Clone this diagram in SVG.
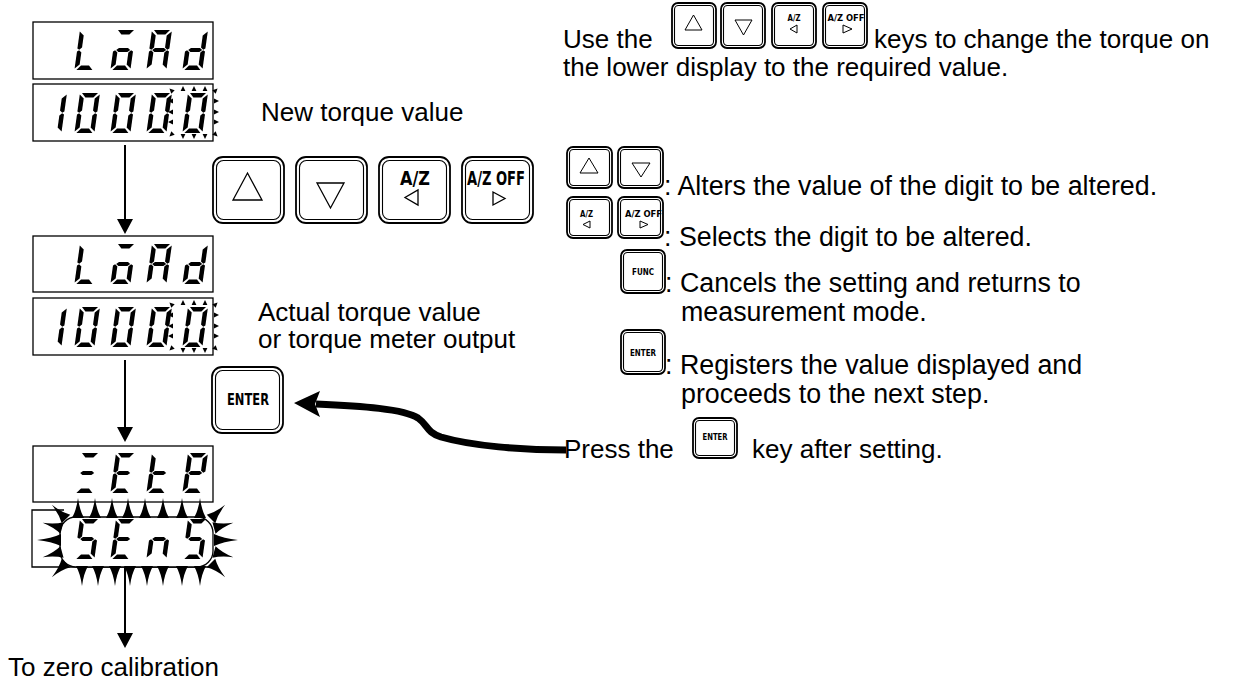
<svg xmlns="http://www.w3.org/2000/svg" width="1239" height="688" viewBox="0 0 1239 688">
<style>
.t{font-family:"Liberation Sans",Arial,Helvetica,sans-serif;font-size:26px;fill:#000}
.tl{font-size:26.8px}
.k{font-family:"DejaVu Sans Condensed","Liberation Sans Narrow","Liberation Sans",sans-serif;font-weight:bold;fill:#000;text-anchor:middle}
.box{fill:#fff;stroke:#000;stroke-width:1.3}
.ko{fill:#fff;stroke:#000;stroke-width:1.8}
.ki{fill:none;stroke:#000;stroke-width:1.1}
.sym{fill:#fff;stroke:#000;stroke-width:1.3}
.ln{stroke:#000;stroke-width:2;fill:none}
.seg use,.seg path{fill:#000}
</style>
<defs>
<path id="sa" d="M2,0 H18 L14,4.5 H6 Z"/>
<path id="sb" d="M20,1.5 V18.6 L18,19.7 L15.5,17.6 V5.5 Z"/>
<path id="sf" d="M0,1.5 L4.5,5.5 V17.6 L2,19.7 L0,18.6 Z"/>
<path id="sg" d="M3,20 L5.5,17.9 H14.5 L17,20 L14.5,22.1 H5.5 Z"/>
<path id="se" d="M0,21.4 L2,20.3 L4.5,22.4 V34.5 L0,38.5 Z"/>
<path id="sc" d="M20,21.4 V38.5 L15.5,34.5 V22.4 L18,20.3 Z"/>
<path id="sd" d="M2,40 L6,35.5 H14 L18,40 Z"/>
<path id="spk" d="M-6,0 Q-1.5,-8 0,-20 Q1.5,-8 6,0 Z"/>
<path id="tri" d="M-2.4,0 L2.4,0 L0,-5 Z"/>
<path id="ah" d="M-8,-15 L8,-15 L0,0 Z"/>
<g id="blink">
<use href="#tri" transform="translate(183,91)"/><use href="#tri" transform="translate(194,91)"/><use href="#tri" transform="translate(205,91)"/>
<use href="#tri" transform="translate(183,134) rotate(180)"/><use href="#tri" transform="translate(194,134) rotate(180)"/><use href="#tri" transform="translate(205,134) rotate(180)"/>
<use href="#tri" transform="translate(214,101) rotate(90)"/><use href="#tri" transform="translate(214,112) rotate(90)"/><use href="#tri" transform="translate(214,122) rotate(90)"/>
<use href="#tri" transform="translate(214,92) rotate(45)"/><use href="#tri" transform="translate(214,133) rotate(135)"/>
<use href="#tri" transform="translate(173,101) rotate(-90)"/><use href="#tri" transform="translate(173,112) rotate(-90)"/><use href="#tri" transform="translate(173,122) rotate(-90)"/>
<use href="#tri" transform="translate(173,92) rotate(-45)"/><use href="#tri" transform="translate(173,133) rotate(-135)"/>
</g>
</defs>
<rect width="1239" height="688" fill="#fff"/>

<!-- Display 1: LoAd / 1000.0 -->
<g id="display-load-1">
<rect class="box" x="33" y="22" width="180" height="57"/>
<g class="seg">
<g transform="translate(80,30) skewX(-8)"><use href="#sd"/><use href="#se"/><use href="#sf"/></g>
<g transform="translate(116,30) skewX(-8)"><use href="#sa"/><use href="#sc"/><use href="#sd"/><use href="#se"/><use href="#sg"/></g>
<g transform="translate(152,30) skewX(-8)"><use href="#sa"/><use href="#sb"/><use href="#sc"/><use href="#se"/><use href="#sf"/><use href="#sg"/></g>
<g transform="translate(188,30) skewX(-8)"><use href="#sb"/><use href="#sc"/><use href="#sd"/><use href="#se"/><use href="#sg"/></g>
</g>
</g>
<g id="display-value-1">
<rect class="box" x="33" y="84" width="180" height="57"/>
<g class="seg">
<g transform="translate(47,93) skewX(-8)"><use href="#sb"/><use href="#sc"/></g>
<g transform="translate(80,93) skewX(-8)"><use href="#sa"/><use href="#sb"/><use href="#sc"/><use href="#sd"/><use href="#se"/><use href="#sf"/></g>
<g transform="translate(116,93) skewX(-8)"><use href="#sa"/><use href="#sb"/><use href="#sc"/><use href="#sd"/><use href="#se"/><use href="#sf"/></g>
<g transform="translate(152,93) skewX(-8)"><use href="#sa"/><use href="#sb"/><use href="#sc"/><use href="#sd"/><use href="#se"/><use href="#sf"/></g>
<g transform="translate(188,93) skewX(-8)"><use href="#sa"/><use href="#sb"/><use href="#sc"/><use href="#sd"/><use href="#se"/><use href="#sf"/></g>
<use href="#blink"/>
</g>
</g>

<!-- Display 2 -->
<g id="display-load-2">
<rect class="box" x="33" y="236" width="180" height="56"/>
<g class="seg">
<g transform="translate(80,244) skewX(-8)"><use href="#sd"/><use href="#se"/><use href="#sf"/></g>
<g transform="translate(116,244) skewX(-8)"><use href="#sa"/><use href="#sc"/><use href="#sd"/><use href="#se"/><use href="#sg"/></g>
<g transform="translate(152,244) skewX(-8)"><use href="#sa"/><use href="#sb"/><use href="#sc"/><use href="#se"/><use href="#sf"/><use href="#sg"/></g>
<g transform="translate(188,244) skewX(-8)"><use href="#sb"/><use href="#sc"/><use href="#sd"/><use href="#se"/><use href="#sg"/></g>
</g>
</g>
<g id="display-value-2">
<rect class="box" x="33" y="298" width="180" height="57"/>
<g class="seg">
<g transform="translate(47,307) skewX(-8)"><use href="#sb"/><use href="#sc"/></g>
<g transform="translate(80,307) skewX(-8)"><use href="#sa"/><use href="#sb"/><use href="#sc"/><use href="#sd"/><use href="#se"/><use href="#sf"/></g>
<g transform="translate(116,307) skewX(-8)"><use href="#sa"/><use href="#sb"/><use href="#sc"/><use href="#sd"/><use href="#se"/><use href="#sf"/></g>
<g transform="translate(152,307) skewX(-8)"><use href="#sa"/><use href="#sb"/><use href="#sc"/><use href="#sd"/><use href="#se"/><use href="#sf"/></g>
<g transform="translate(188,307) skewX(-8)"><use href="#sa"/><use href="#sb"/><use href="#sc"/><use href="#sd"/><use href="#se"/><use href="#sf"/></g>
<use href="#blink" transform="translate(0,214)"/>
</g>
</g>

<!-- Display 3 -->
<g id="display-mode-3">
<rect class="box" x="33" y="446" width="180" height="56"/>
<g class="seg">
<g transform="translate(80,453) skewX(-8)"><use href="#sa"/><use href="#sg"/><use href="#sd"/></g>
<g transform="translate(116,453) skewX(-8)"><use href="#sa"/><use href="#sd"/><use href="#se"/><use href="#sf"/><use href="#sg"/></g>
<g transform="translate(152,453) skewX(-8)"><use href="#sd"/><use href="#se"/><use href="#sf"/><use href="#sg"/></g>
<g transform="translate(188,453) skewX(-8)"><use href="#sa"/><use href="#sb"/><use href="#sf"/><use href="#sg"/><use href="#se"/><use href="#sd"/></g>
</g>
</g>
<g id="display-sens-3">
<path class="ln" style="stroke-width:1.3" d="M64,510 H32 V567 H212"/>
<rect class="box" x="60" y="517" width="153" height="50" rx="16"/>
<g class="seg">
<g transform="translate(80,519) skewX(-8)"><use href="#sa"/><use href="#sf"/><use href="#sg"/><use href="#sc"/><use href="#sd"/></g>
<g transform="translate(116,519) skewX(-8)"><use href="#sa"/><use href="#sd"/><use href="#se"/><use href="#sf"/><use href="#sg"/></g>
<g transform="translate(152,519) skewX(-8)"><use href="#sc"/><use href="#se"/><use href="#sg"/></g>
<g transform="translate(188,519) skewX(-8)"><use href="#sa"/><use href="#sf"/><use href="#sg"/><use href="#sc"/><use href="#sd"/></g>
<use href="#spk" transform="translate(78,518)"/><use href="#spk" transform="translate(95,518)"/><use href="#spk" transform="translate(112,518)"/><use href="#spk" transform="translate(128,518)"/>
<use href="#spk" transform="translate(145,518)"/><use href="#spk" transform="translate(163,518)"/><use href="#spk" transform="translate(182,518)"/><use href="#spk" transform="translate(200,518)"/>
<use href="#spk" transform="translate(82,566) rotate(180)"/><use href="#spk" transform="translate(98,566) rotate(180)"/><use href="#spk" transform="translate(115,566) rotate(180)"/><use href="#spk" transform="translate(130,566) rotate(180)"/>
<use href="#spk" transform="translate(147,566) rotate(180)"/><use href="#spk" transform="translate(163,566) rotate(180)"/><use href="#spk" transform="translate(182,566) rotate(180)"/><use href="#spk" transform="translate(200,566) rotate(180)"/>
<use href="#spk" transform="translate(66,519) rotate(-45)"/><use href="#spk" transform="translate(62,528) rotate(-75)"/><use href="#spk" transform="translate(61,540) rotate(-90) scale(1,1.2)"/><use href="#spk" transform="translate(62,552) rotate(-105)"/><use href="#spk" transform="translate(66,563) rotate(-135)"/>
<use href="#spk" transform="translate(211,519) rotate(45)"/><use href="#spk" transform="translate(214,528) rotate(75)"/><use href="#spk" transform="translate(214,540) rotate(90) scale(1,1.2)"/><use href="#spk" transform="translate(214,552) rotate(105)"/><use href="#spk" transform="translate(211,563) rotate(135)"/>
</g>
</g>

<!-- Main keys -->
<g id="key-up">
<rect class="ko" x="213" y="157" width="71" height="66" rx="10"/><rect class="ki" x="216.5" y="160.5" width="64" height="59" rx="7"/>
<polygon class="sym" points="233,200 262,200 247.5,173"/>
</g>
<g id="key-down">
<rect class="ko" x="296" y="157" width="71" height="66" rx="10"/><rect class="ki" x="299.5" y="160.5" width="64" height="59" rx="7"/>
<polygon class="sym" points="317,183 344,183 330.5,208"/>
</g>
<g id="key-az">
<rect class="ko" x="379" y="157" width="71" height="66" rx="10"/><rect class="ki" x="382.5" y="160.5" width="64" height="59" rx="7"/>
<text class="k" x="415" y="185" font-size="19" textLength="30" lengthAdjust="spacingAndGlyphs">A/Z</text>
<polygon class="sym" points="418,190 418,205 405,197.5"/>
</g>
<g id="key-azoff">
<rect class="ko" x="462" y="157" width="71" height="66" rx="10"/><rect class="ki" x="465.5" y="160.5" width="64" height="59" rx="7"/>
<text class="k" x="496" y="185" font-size="19" textLength="58" lengthAdjust="spacingAndGlyphs">A/Z OFF</text>
<polygon class="sym" points="493,192 493,205 505,198.5"/>
</g>
<g id="key-enter">
<rect class="ko" x="212" y="367" width="71" height="66" rx="10"/><rect class="ki" x="215.5" y="370.5" width="64" height="59" rx="7"/>
<text class="k" x="248" y="405" font-size="16" textLength="42" lengthAdjust="spacingAndGlyphs">ENTER</text>
</g>

<!-- Small keys top row -->
<g id="small-keys-top">
<rect class="ko" x="672" y="3" width="44" height="45" rx="6"/><rect class="ki" x="674.5" y="5.5" width="39" height="40" rx="4"/>
<polygon class="sym" style="stroke-width:1" points="685,30 702,30 693.5,15"/>
<rect class="ko" x="721" y="3" width="44" height="45" rx="6"/><rect class="ki" x="723.5" y="5.5" width="39" height="40" rx="4"/>
<polygon class="sym" style="stroke-width:1" points="735,20 752,20 743.5,35"/>
<rect class="ko" x="772" y="3" width="44" height="45" rx="6"/><rect class="ki" x="774.5" y="5.5" width="39" height="40" rx="4"/>
<text class="k" x="794" y="21" font-size="9" textLength="13" lengthAdjust="spacingAndGlyphs">A/Z</text>
<polygon class="sym" style="stroke-width:1" points="797,25 797,33 790,29"/>
<rect class="ko" x="823" y="3" width="44" height="45" rx="6"/><rect class="ki" x="825.5" y="5.5" width="39" height="40" rx="4"/>
<text class="k" x="846" y="21" font-size="9" textLength="37" lengthAdjust="spacingAndGlyphs">A/Z OFF</text>
<polygon class="sym" style="stroke-width:1" points="843,25 843,33 852,29"/>
</g>

<!-- Legend keys -->
<g id="legend-updown">
<rect class="ko" x="567" y="147" width="45" height="41" rx="6"/><rect class="ki" x="569.5" y="149.5" width="40" height="36" rx="4"/>
<polygon class="sym" style="stroke-width:1" points="580,173 598,173 589,158"/>
<rect class="ko" x="618" y="147" width="45" height="41" rx="6"/><rect class="ki" x="620.5" y="149.5" width="40" height="36" rx="4"/>
<polygon class="sym" style="stroke-width:1" points="632,163 650,163 641,177"/>
</g>
<g id="legend-az">
<rect class="ko" x="567" y="197" width="45" height="41" rx="6"/><rect class="ki" x="569.5" y="199.5" width="40" height="36" rx="4"/>
<text class="k" x="586.5" y="217" font-size="9" textLength="13" lengthAdjust="spacingAndGlyphs">A/Z</text>
<polygon class="sym" style="stroke-width:1" points="590,221 590,228 583,224.5"/>
<rect class="ko" x="618" y="197" width="45" height="41" rx="6"/><rect class="ki" x="620.5" y="199.5" width="40" height="36" rx="4"/>
<text class="k" x="643.5" y="217" font-size="9" textLength="37" lengthAdjust="spacingAndGlyphs">A/Z OFF</text>
<polygon class="sym" style="stroke-width:1" points="640,221 640,228 648,224.5"/>
</g>
<g id="legend-func">
<rect class="ko" x="621" y="250" width="44" height="43" rx="6"/><rect class="ki" x="623.5" y="252.5" width="39" height="38" rx="4"/>
<text class="k" x="643" y="275" font-size="8" textLength="22" lengthAdjust="spacingAndGlyphs">FUNC</text>
</g>
<g id="legend-enter">
<rect class="ko" x="621" y="330" width="44" height="44" rx="6"/><rect class="ki" x="623.5" y="332.5" width="39" height="39" rx="4"/>
<text class="k" x="643" y="356" font-size="8" textLength="26" lengthAdjust="spacingAndGlyphs">ENTER</text>
</g>
<g id="press-enter-key">
<rect class="ko" x="693" y="418" width="44" height="40" rx="6"/><rect class="ki" x="695.5" y="420.5" width="39" height="35" rx="4"/>
<text class="k" x="715" y="440" font-size="8" textLength="25" lengthAdjust="spacingAndGlyphs">ENTER</text>
</g>

<!-- Texts -->
<g id="labels">
<text class="t" x="563" y="48">Use the</text>
<text class="t" x="874" y="48">keys to change the torque on</text>
<text class="t" x="563" y="76">the lower display to the required value.</text>
<text class="t" x="261" y="121">New torque value</text>
<text class="t tl" x="664" y="195">: Alters the value of the digit to be altered.</text>
<text class="t tl" x="664" y="246">: Selects the digit to be altered.</text>
<text class="t tl" x="665" y="292">: Cancels the setting and returns to</text>
<text class="t tl" x="681" y="321">measurement mode.</text>
<text class="t" x="258" y="321">Actual torque value</text>
<text class="t" x="258" y="348">or torque meter output</text>
<text class="t tl" x="665" y="374">: Registers the value displayed and</text>
<text class="t tl" x="681" y="403">proceeds to the next step.</text>
<text class="t" x="564" y="458">Press the</text>
<text class="t" x="752" y="458">key after setting.</text>
<text class="t" x="8" y="676">To zero calibration</text>
</g>

<!-- Connectors -->
<g id="connectors">
<line class="ln" x1="125" y1="145" x2="125" y2="222"/>
<use href="#ah" transform="translate(125,234)"/>
<line class="ln" x1="125" y1="360" x2="125" y2="430"/>
<use href="#ah" transform="translate(125,442)"/>
<line class="ln" x1="125" y1="567" x2="125" y2="636"/>
<use href="#ah" transform="translate(125,648)"/>
<path d="M316,404 C362,406 404,409 418,418 C428,425 426,432 441,437 C472,446 522,450 566,450" fill="none" stroke="#000" stroke-width="7"/>
<polygon points="294,403 320,391 315,404 320,417" fill="#000"/>
</g>
</svg>
